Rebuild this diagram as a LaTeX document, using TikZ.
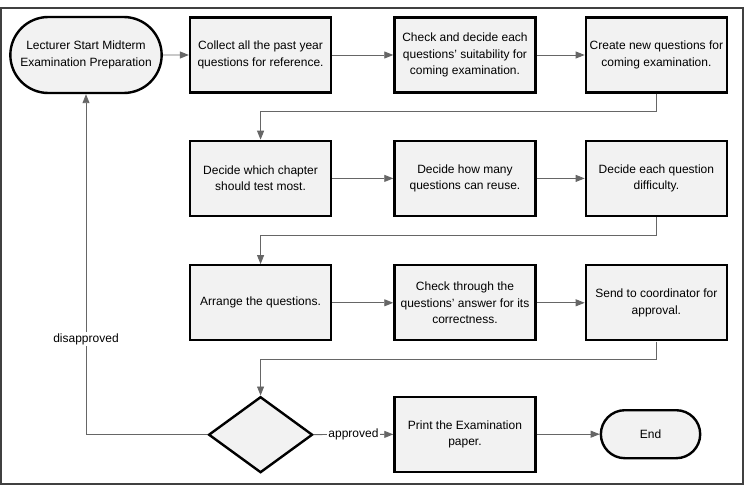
\documentclass[tikz,border=0pt]{standalone}
\usepackage{fontspec}
\setmainfont{Liberation Sans}
\usetikzlibrary{positioning, arrows.meta, shapes.geometric, shapes.misc}

\begin{document}
\begin{tikzpicture}[
    x=1pt, y=-1pt,
    node distance=46pt,
    every node/.style={
        font=\fontsize{12}{16.5}\selectfont,
        align=center
    },
    stepbox/.style={
        draw,
        line width=2.4pt,
        fill=gray!10,
        minimum width=141pt,
        minimum height=75pt,
        inner sep=2pt
    },
    terminal/.style={
        draw,
        rounded rectangle,
        line width=2.4pt,
        fill=gray!10
    },
    decision/.style={
        draw,
        diamond,
        line width=2.4pt,
        fill=gray!10,
        minimum width=104pt,
        minimum height=76pt,
        inner sep=0pt
    },
    arrow/.style={-{Triangle[width=7pt,length=9pt]}, gray!80!black, line width=0.9pt},
    flowlabel/.style={fill=white, text=black, inner sep=1.5pt}
]

\useasboundingbox (0,0) rectangle (747,494);
\draw[line width=2.5pt, black!75] (1,8) rectangle (743,484);

% first row
\node (start) [terminal, minimum width=158pt, minimum height=76pt] at (86,55)
    {Lecturer Start Midterm\\Examination Preparation};
\node (collect) [stepbox, right=26pt of start] {Collect all the past year\\questions for reference.};
\node (check) [stepbox, right=61pt of collect] {Check and decide each\\questions' suitability for\\coming examination.};
\node (create) [stepbox, right=48pt of check] {Create new questions for\\coming examination.};

% second row
\node (chapter) [stepbox, below=of collect] {Decide which chapter\\should test most.};
\node (reuse) [stepbox, below=of check] {Decide how many\\questions can reuse.};
\node (level) [stepbox, below=of create] {Decide each question\\difficulty.};

% third row
\node (arrange) [stepbox, below=47pt of chapter] {Arrange the questions.};
\node (answer) [stepbox, below=47pt of reuse] {Check through the\\questions' answer for its\\correctness.};
\node (send) [stepbox, below=47pt of level] {Send to coordinator for\\approval.};

% last row
\node (approve) [decision, below=54pt of arrange] {};
\node (print) [stepbox, below=54pt of answer] {Print the Examination\\paper.};
\node (end) [terminal, minimum width=106pt, minimum height=48pt, right=63pt of print] {End};

\draw[arrow] (start) -- (collect);
\draw[arrow] (collect) -- (check);
\draw[arrow] (check) -- (create);
\draw[arrow] (create.south) -- ++(0,18) -| (chapter.north);

\draw[arrow] (chapter) -- (reuse);
\draw[arrow] (reuse) -- (level);
\draw[arrow] (level.south) -- ++(0,18) -| (arrange.north);

\draw[arrow] (arrange) -- (answer);
\draw[arrow] (answer) -- (send);
\draw[arrow] (send.south) -- ++(0,18) -| (approve.north);

\draw[arrow] (approve) -- node[flowlabel] {approved} (print);
\draw[arrow] (print) -- (end);
\draw[arrow] (approve.west) -| node[flowlabel, pos=0.64] {disapproved} (start.south);

\end{tikzpicture}
\end{document}
